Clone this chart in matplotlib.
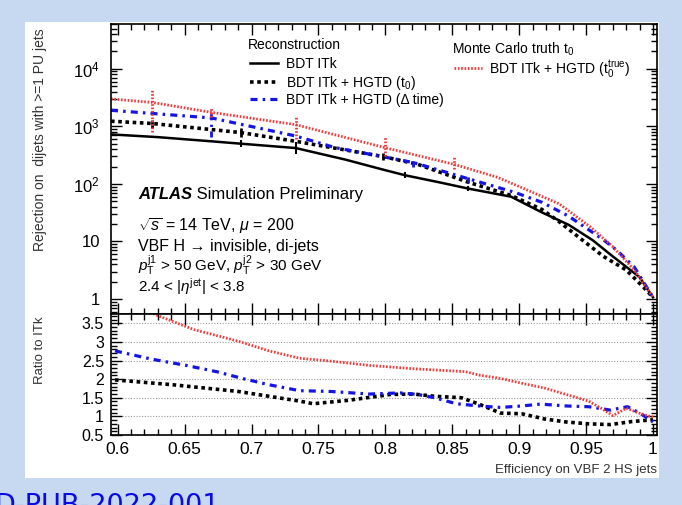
import matplotlib
matplotlib.use("Agg")
import matplotlib.pyplot as plt
from matplotlib.ticker import FixedLocator, MultipleLocator, LogLocator, NullFormatter, FixedFormatter
from matplotlib.patches import Rectangle

plt.rcParams['font.family'] = ['Liberation Sans', 'DejaVu Sans']
plt.rcParams['mathtext.fontset'] = 'custom'
plt.rcParams['mathtext.rm'] = 'Liberation Sans'
plt.rcParams['mathtext.it'] = 'Liberation Sans:italic'
plt.rcParams['mathtext.bf'] = 'Liberation Sans:bold'

################################################################################
# DATA
#------------------------------------------------------------------------------#

# top panel: rejection vs efficiency
eff_itk = [0.595, 0.63, 0.67, 0.692, 0.733, 0.77, 0.798, 0.815, 0.84, 0.862,
           0.894, 0.917, 0.937, 0.955, 0.97, 0.99, 1.0]
rej_itk = [725, 650, 550, 500, 420, 265, 178, 141, 107, 83,
           60, 32, 19.5, 10.5, 5.5, 2.4, 1.07]

eff_t0 = [0.595, 0.626, 0.692, 0.733, 0.798, 0.824, 0.862, 0.894, 0.917,
          0.93, 0.947, 0.963, 0.98, 0.993, 1.0]
rej_t0 = [1230, 1120, 780, 550, 300, 220, 107, 63, 36,
          22, 10.7, 5.5, 3.2, 1.6, 1.07]

eff_dt = [0.595, 0.67, 0.733, 0.762, 0.821, 0.862, 0.897, 0.917, 0.937,
          0.963, 0.973, 0.986, 1.0]
rej_dt = [1900, 1400, 680, 430, 235, 123, 71, 48, 27.5,
          10.7, 7.0, 3.6, 1.07]

eff_true = [0.595, 0.626, 0.67, 0.733, 0.8, 0.851, 0.884, 0.93, 0.953,
            0.97, 0.986, 1.0]
rej_true = [3000, 2600, 1750, 1070, 425, 220, 130, 45, 18,
            8.1, 3.2, 1.07]

# error bars (position, low, high)
err_eff_itk = [0.692, 0.733, 0.815, 0.862]
err_lo_itk = [440, 330, 125, 75]
err_hi_itk = [570, 530, 160, 93]

err_eff_t0 = [0.626, 0.692, 0.798]
err_lo_t0 = [950, 650, 260]
err_hi_t0 = [1300, 950, 340]

err_eff_dt = [0.67, 0.821, 0.862]
err_lo_dt = [660, 200, 105]
err_hi_dt = [2000, 270, 140]

err_eff_true = [0.626, 0.67, 0.733, 0.8, 0.851]
err_lo_true = [800, 1450, 600, 310, 180]
err_hi_true = [4500, 2100, 1500, 680, 310]

# bottom panel: ratio to ITk
r_eff_t0 = [0.598, 0.641, 0.690, 0.736, 0.746, 0.772, 0.804, 0.821, 0.837, 0.857,
            0.870, 0.886, 0.902, 0.919, 0.935, 0.952, 0.968, 0.984, 1.0]
r_t0 = [1.98, 1.85, 1.67, 1.41, 1.34, 1.43, 1.59, 1.60, 1.54, 1.50,
        1.33, 1.09, 1.07, 0.93, 0.85, 0.80, 0.78, 0.86, 0.91]

r_eff_dt = [0.598, 0.625, 0.651, 0.674, 0.693, 0.713, 0.736, 0.759, 0.788, 0.811,
            0.824, 0.837, 0.853, 0.870, 0.886, 0.902, 0.916, 0.935, 0.952, 0.968,
            0.981, 0.991, 1.0]
r_dt = [2.76, 2.54, 2.37, 2.20, 2.02, 1.85, 1.69, 1.67, 1.60, 1.63,
        1.59, 1.50, 1.34, 1.28, 1.24, 1.28, 1.33, 1.28, 1.26, 1.17,
        1.26, 1.07, 0.85]

r_eff_true = [0.598, 0.629, 0.657, 0.690, 0.713, 0.736, 0.755, 0.788, 0.821, 0.860,
              0.870, 0.886, 0.902, 0.919, 0.935, 0.952, 0.962, 0.970, 0.980, 0.991, 1.0]
r_true = [4.3, 3.72, 3.33, 3.02, 2.76, 2.56, 2.50, 2.37, 2.28, 2.20,
          2.11, 2.02, 1.89, 1.76, 1.59, 1.41, 1.20, 1.02, 1.22, 1.07, 0.98]

x_ticks = [0.6, 0.65, 0.7, 0.75, 0.8, 0.85, 0.9, 0.95, 1.0]
x_labels = ['0.6', '0.65', '0.7', '0.75', '0.8', '0.85', '0.9', '0.95', '1']
top_ticks = [1, 10, 100, 1000, 10000]
top_labels = ['1', '10', r'$10^{2}$', r'$10^{3}$', r'$10^{4}$']
ratio_ticks = [0.5, 1, 1.5, 2, 2.5, 3, 3.5]
ratio_labels = ['0.5', '1', '1.5', '2', '2.5', '3', '3.5']

################################################################################
# HELPERS
#------------------------------------------------------------------------------#

W, H = 682, 505

def fx(x):
    return x / W

def fy(y):
    return 1 - y / H

st_itk = dict(color='black', lw=1.8, ls='-')
st_t0 = dict(color='black', lw=2.6, ls=(0, (1, 1)), dash_capstyle='butt')
st_dt = dict(color='#1414e6', lw=2.3, ls=(0, (2.2, 1.6, 0.8, 1.6)), dash_capstyle='butt')
st_true = dict(color='#f03a3a', lw=2.0, ls=(0, (0.6, 0.6)), dash_capstyle='butt')

def style_axis(ax):
    ax.tick_params(which='both', direction='in', top=True, right=True, width=1.0)
    ax.tick_params(which='major', length=8)
    ax.tick_params(which='minor', length=4)
    for s in ax.spines.values():
        s.set_linewidth(1.2)

################################################################################
# FIGURE
#------------------------------------------------------------------------------#

fig = plt.figure(figsize=(6.82, 5.05), dpi=100, facecolor='#c6d9f0')
fig.patches.append(Rectangle((fx(25), fy(478)), fx(659) - fx(25), fy(22) - fy(478),
                             transform=fig.transFigure, facecolor='white',
                             edgecolor='none', zorder=-10))

ax1 = fig.add_axes([fx(111), fy(314), fx(657) - fx(111), fy(24) - fy(314)])
ax2 = fig.add_axes([fx(111), fy(435), fx(657) - fx(111), fy(314) - fy(435)])

# top panel
ax1.plot(eff_itk, rej_itk, **st_itk)
ax1.plot(eff_t0, rej_t0, **st_t0)
ax1.plot(eff_dt, rej_dt, **st_dt)
ax1.plot(eff_true, rej_true, **st_true)
ax1.vlines(err_eff_itk, err_lo_itk, err_hi_itk, color='black', lw=1.5)
ax1.vlines(err_eff_t0, err_lo_t0, err_hi_t0, color='black', lw=2.0)
ax1.vlines(err_eff_dt, err_lo_dt, err_hi_dt, color='#1414e6', lw=2.0, linestyles=(0, (2.2, 1.6, 0.8, 1.6)))
ax1.vlines(err_eff_true, err_lo_true, err_hi_true, color='#f03a3a', lw=2.0, linestyles=(0, (0.6, 0.6)))

ax1.set_yscale('log')
ax1.set_xlim(0.595, 1.003)
ax1.set_ylim(0.55, 6e4)
ax1.xaxis.set_major_locator(FixedLocator(x_ticks))
ax1.xaxis.set_minor_locator(MultipleLocator(0.01))
ax1.xaxis.set_major_formatter(NullFormatter())
ax1.yaxis.set_major_locator(FixedLocator(top_ticks))
ax1.yaxis.set_major_formatter(FixedFormatter(top_labels))
ax1.yaxis.set_minor_locator(LogLocator(base=10, subs=range(2, 10)))
ax1.yaxis.set_minor_formatter(NullFormatter())
style_axis(ax1)
ax1.tick_params(axis='y', which='major', labelsize=12, pad=8)

# bottom panel
ax2.yaxis.grid(True, which='major', ls=(0, (1, 1.5)), color='#9a9a9a', lw=0.8)
ax2.plot(r_eff_t0, r_t0, **st_t0)
ax2.plot(r_eff_dt, r_dt, **st_dt)
ax2.plot(r_eff_true, r_true, **st_true)
ax2.set_xlim(0.595, 1.003)
ax2.set_ylim(0.5, 3.75)
ax2.xaxis.set_major_locator(FixedLocator(x_ticks))
ax2.xaxis.set_major_formatter(FixedFormatter(x_labels))
ax2.xaxis.set_minor_locator(MultipleLocator(0.01))
ax2.yaxis.set_major_locator(FixedLocator(ratio_ticks))
ax2.yaxis.set_major_formatter(FixedFormatter(ratio_labels))
ax2.yaxis.set_minor_locator(MultipleLocator(0.1))
style_axis(ax2)
ax2.tick_params(axis='x', which='major', labelsize=12.5, pad=5)
ax2.tick_params(axis='y', which='major', labelsize=11.5, pad=5)

# axis titles
fig.text(fx(40), fy(28), 'Rejection on  dijets with >=1 PU jets', rotation=90,
         ha='center', va='top', fontsize=10, color='#333333')
fig.text(fx(40), fy(316), 'Ratio to ITk', rotation=90, ha='center', va='top',
         fontsize=9.5, color='#333333')
fig.text(fx(657), fy(470), 'Efficiency on VBF 2 HS jets', ha='right', va='center',
         fontsize=9.5, color='#333333')

# legend
fig.text(fx(248), fy(45), 'Reconstruction', fontsize=10, va='center')
leg_rows = [(63, st_itk, 'BDT ITk'),
            (82, st_t0, r'BDT ITk + HGTD (t$_{0}$)'),
            (99, st_dt, 'BDT ITk + HGTD (Δ time)')]
for yy, st, lab in leg_rows:
    ax1.plot([fx(250), fx(278)], [fy(yy), fy(yy)], transform=fig.transFigure, **st)
    fig.text(fx(286), fy(yy + 5), lab, fontsize=10, va='baseline')
fig.text(fx(452), fy(49), r'Monte Carlo truth t$_{0}$', fontsize=10, va='center')
ax1.plot([fx(454), fx(482)], [fy(68), fy(68)], transform=fig.transFigure, **st_true)
fig.text(fx(489), fy(73), r'BDT ITk + HGTD ($\mathrm{t}_{0}^{\mathrm{true}}$)', fontsize=10,
         va='baseline')

# ATLAS label
atl = fig.text(fx(138), fy(199), 'ATLAS', fontsize=12, fontweight='bold', fontstyle='italic',
               va='baseline')
ax1.annotate(' Simulation Preliminary', xy=(1, 0), xycoords=atl, va='bottom', fontsize=12,
             annotation_clip=False)
fig.text(fx(138), fy(231), r'$\sqrt{s}$ = 14 TeV, $\mu$ = 200', fontsize=11.5, va='baseline')
fig.text(fx(138), fy(251), 'VBF H → invisible, di-jets', fontsize=11.5, va='baseline')
fig.text(fx(138), fy(271), r'$p_{\mathrm{T}}^{\mathrm{j1}}$ > 50 GeV, $p_{\mathrm{T}}^{\mathrm{j2}}$ > 30 GeV',
         fontsize=11, va='baseline')
fig.text(fx(138), fy(292), r'2.4 < |$\eta^{\mathrm{jet}}$| < 3.8', fontsize=11, va='baseline')

# clipped reference at the bottom
fig.text(fx(-6), fy(513), 'D-PUB-2022-001', fontsize=19.5, color='#0a0ae6',
         family='DejaVu Sans', va='baseline')

fig.savefig('out.png', dpi=100, facecolor=fig.get_facecolor())
